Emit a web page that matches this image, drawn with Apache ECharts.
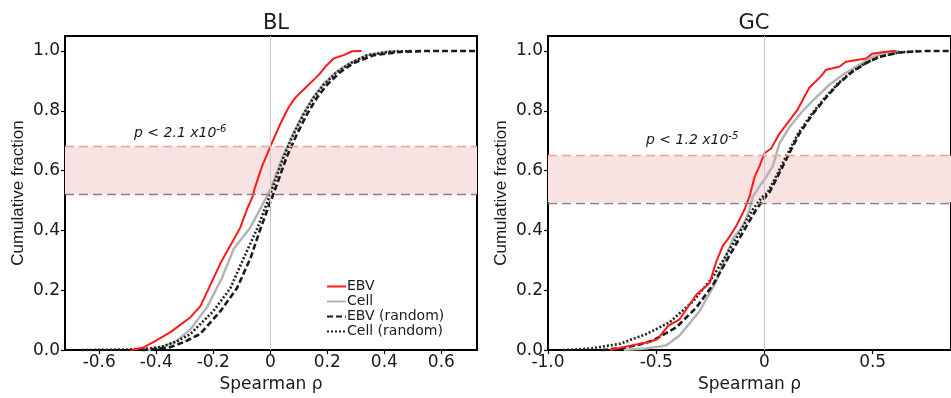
<!DOCTYPE html>
<html>
<head>
<meta charset="utf-8">
<script src="https://cdn.jsdelivr.net/npm/echarts@6/dist/echarts.min.js"></script>
<style>
  html, body { margin: 0; padding: 0; background: #fff; }
  #chart { width: 951px; height: 398px; }
</style>
</head>
<body>
<div id="chart"></div>
<script>
// [spearman rho, cumulative fraction]
const blEbv = [[-0.49,0],[-0.446,0.008],[-0.404,0.03],[-0.35,0.06],[-0.28,0.11],[-0.245,0.147],[-0.21,0.218],[-0.175,0.29],[-0.14,0.35],[-0.105,0.41],[-0.082,0.47],[-0.062,0.513],[-0.055,0.54],[-0.029,0.614],[0,0.68],[0.035,0.756],[0.064,0.811],[0.088,0.844],[0.129,0.882],[0.17,0.92],[0.193,0.947],[0.222,0.975],[0.257,0.986],[0.287,0.999],[0.32,1.0]];
const blCell = [[-0.43,0],[-0.38,0.01],[-0.33,0.03],[-0.28,0.07],[-0.222,0.143],[-0.17,0.24],[-0.128,0.339],[-0.07,0.41],[-0.025,0.49],[0.002,0.54],[0.044,0.647],[0.08,0.723],[0.115,0.789],[0.15,0.844],[0.185,0.887],[0.232,0.93],[0.28,0.96],[0.34,0.986],[0.4,0.997],[0.45,1.0]];
const blEbvRand = [[-0.45,0],[-0.4,0.004],[-0.35,0.01],[-0.3,0.028],[-0.246,0.054],[-0.175,0.13],[-0.117,0.207],[-0.07,0.306],[-0.035,0.404],[-0.006,0.48],[0.018,0.54],[0.058,0.647],[0.094,0.723],[0.129,0.789],[0.164,0.844],[0.199,0.887],[0.246,0.93],[0.292,0.959],[0.363,0.986],[0.456,0.997],[0.55,1.0],[0.72,1.0]];
const blCellRand = [[-0.66,0],[-0.5,0.002],[-0.44,0.004],[-0.386,0.01],[-0.33,0.028],[-0.28,0.054],[-0.2,0.13],[-0.14,0.207],[-0.094,0.306],[-0.047,0.404],[-0.012,0.49],[0.006,0.537],[0.047,0.647],[0.082,0.723],[0.117,0.789],[0.152,0.844],[0.187,0.887],[0.234,0.93],[0.281,0.959],[0.34,0.986],[0.42,0.997],[0.5,1.0]];

const gcEbv = [[-0.714,0],[-0.65,0.01],[-0.576,0.021],[-0.53,0.027],[-0.492,0.038],[-0.445,0.081],[-0.392,0.103],[-0.315,0.185],[-0.253,0.224],[-0.223,0.295],[-0.192,0.349],[-0.169,0.371],[-0.13,0.415],[-0.092,0.47],[-0.069,0.513],[-0.045,0.58],[-0.023,0.614],[0,0.658],[0.031,0.674],[0.069,0.723],[0.115,0.767],[0.154,0.805],[0.207,0.877],[0.261,0.915],[0.284,0.937],[0.346,0.947],[0.376,0.964],[0.469,0.975],[0.499,0.991],[0.561,0.997],[0.607,1.0]];
const gcCell = [[-0.65,0],[-0.55,0.005],[-0.5,0.01],[-0.453,0.016],[-0.392,0.049],[-0.3,0.13],[-0.223,0.229],[-0.177,0.317],[-0.146,0.371],[-0.1,0.415],[-0.069,0.47],[-0.054,0.513],[-0.03,0.54],[0,0.57],[0.038,0.614],[0.069,0.69],[0.115,0.745],[0.177,0.8],[0.238,0.844],[0.3,0.887],[0.361,0.92],[0.422,0.947],[0.499,0.98],[0.576,0.997],[0.622,1.0]];
const gcEbvRand = [[-0.75,0],[-0.65,0.008],[-0.58,0.018],[-0.515,0.032],[-0.407,0.076],[-0.315,0.142],[-0.238,0.218],[-0.161,0.317],[-0.1,0.393],[-0.038,0.47],[0,0.508],[0.023,0.527],[0.069,0.592],[0.115,0.658],[0.161,0.723],[0.223,0.789],[0.284,0.844],[0.346,0.893],[0.407,0.931],[0.469,0.959],[0.53,0.98],[0.622,0.995],[0.75,1.0],[0.86,1.0]];
const gcCellRand = [[-0.93,0],[-0.806,0.005],[-0.668,0.021],[-0.545,0.054],[-0.438,0.093],[-0.33,0.163],[-0.238,0.245],[-0.177,0.317],[-0.115,0.393],[-0.054,0.47],[-0.015,0.508],[0.015,0.527],[0.062,0.592],[0.108,0.658],[0.155,0.723],[0.218,0.789],[0.28,0.844],[0.342,0.893],[0.404,0.931],[0.466,0.959],[0.528,0.98],[0.62,0.995],[0.72,1.0]];

const panelTitles = ["BL", "GC"];
const bands = [[0.52, 0.68], [0.495, 0.65]];
const pLabels = [["2.1", "-6"], ["1.2", "-5"]];
const blTicks = [-0.6, -0.4, -0.2, 0, 0.2, 0.4, 0.6];
const gcTicks = [-1.0, -0.5, 0, 0.5];
const yTicks = [0, 0.2, 0.4, 0.6, 0.8, 1.0];

const FONT = "DejaVu Sans";
const chart = echarts.init(document.getElementById("chart"));

const grids = [
  { left: 65, top: 36, width: 412, height: 320 },
  { left: 548, top: 36, width: 404, height: 320 },
];

const xAxis = [
  { min: -0.72, max: 0.725, ticks: blTicks },
  { min: -1.0, max: 0.862, ticks: gcTicks },
].map((a, i) => ({
  type: "value",
  gridIndex: i,
  min: a.min,
  max: a.max,
  name: "Spearman ρ",
  nameLocation: "middle",
  nameGap: 22,
  nameTextStyle: { fontFamily: FONT, fontSize: 17, color: "#1a1a1a" },
  splitLine: { show: false },
  axisLine: { onZero: false, lineStyle: { color: "#000", width: 2 } },
  axisTick: { customValues: a.ticks, length: 4, lineStyle: { color: "#000", width: 1.2 } },
  axisLabel: {
    customValues: a.ticks,
    margin: 4,
    fontFamily: FONT,
    fontSize: 17,
    color: "#1a1a1a",
    formatter: (v) => (v === 0 ? "0" : v.toFixed(1)),
  },
}));

const yAxis = [0, 1].map((i) => ({
  type: "value",
  gridIndex: i,
  min: 0,
  max: 1.05,
  name: "Cumulative fraction",
  nameLocation: "middle",
  nameGap: 38,
  nameTextStyle: { fontFamily: "Liberation Sans", fontSize: 17, color: "#1a1a1a" },
  splitLine: { show: false },
  axisLine: { onZero: false, lineStyle: { color: "#000", width: 2 } },
  axisTick: { customValues: yTicks, length: 4, lineStyle: { color: "#000", width: 1.2 } },
  axisLabel: {
    customValues: yTicks,
    margin: 5,
    fontFamily: FONT,
    fontSize: 17,
    color: "#1a1a1a",
    formatter: (v) => v.toFixed(1),
  },
}));

const styles = {
  "EBV": { color: "#ff1a1a", width: 2, type: "solid" },
  "Cell": { color: "#b4b4b4", width: 2.5, type: "solid" },
  "EBV (random)": { color: "#1a1a1a", width: 2.6, type: [6, 3] },
  "Cell (random)": { color: "#222", width: 2.6, type: [2, 2] },
};

function curve(name, data, i) {
  const st = styles[name];
  return {
    name,
    type: "line",
    xAxisIndex: i,
    yAxisIndex: i,
    data,
    symbol: "none",
    animation: false,
    lineStyle: { color: st.color, width: st.width, type: st.type },
    itemStyle: { color: st.color },
    z: 3,
  };
}

function guides(i) {
  const [lo, hi] = bands[i];
  return {
    type: "line",
    xAxisIndex: i,
    yAxisIndex: i,
    data: [],
    silent: true,
    animation: false,
    markArea: {
      silent: true,
      itemStyle: { color: "#f8e2e2" },
      data: [[{ yAxis: lo }, { yAxis: hi }]],
    },
    markLine: {
      silent: true,
      symbol: "none",
      label: { show: false },
      data: [
        { xAxis: 0, lineStyle: { color: "#c8c8c8", width: 1, type: "solid" } },
        { yAxis: hi, lineStyle: { color: "#f4a0a0", width: 1.3, type: [9, 5] } },
        { yAxis: lo, lineStyle: { color: "#8c8080", width: 1.3, type: [9, 5] } },
      ],
    },
  };
}

const series = [
  guides(0),
  guides(1),
  curve("Cell", blCell, 0),
  curve("EBV (random)", blEbvRand, 0),
  curve("Cell (random)", blCellRand, 0),
  curve("EBV", blEbv, 0),
  curve("Cell", gcCell, 1),
  curve("EBV (random)", gcEbvRand, 1),
  curve("Cell (random)", gcCellRand, 1),
  curve("EBV", gcEbv, 1),
];

const pText = (i, x, y) => ({
  type: "text",
  left: x,
  top: y,
  style: {
    text: "{i|p < " + pLabels[i][0] + " x10}{s|" + pLabels[i][1] + "}",
    rich: {
      i: { fontFamily: FONT, fontStyle: "italic", fontSize: 14, fill: "#1a1a1a", lineHeight: 18 },
      s: { fontFamily: FONT, fontStyle: "italic", fontSize: 10, fill: "#1a1a1a", lineHeight: 18, padding: [0, 0, 8, 0] },
    },
  },
});

chart.setOption({
  animation: false,
  title: panelTitles.map((t, i) => ({
    text: t,
    left: i === 0 ? 271 : 749,
    top: 8,
    textAlign: "center",
    textStyle: { fontFamily: FONT, fontSize: 21, fontWeight: "normal", color: "#1a1a1a" },
  })),
  grid: grids.map((g) => ({ ...g, show: true, borderColor: "#000", borderWidth: 2, backgroundColor: "transparent" })),
  xAxis,
  yAxis,
  legend: {
    data: ["EBV", "Cell", "EBV (random)", "Cell (random)"],
    orient: "vertical",
    left: 321,
    top: 274,
    itemWidth: 19,
    itemHeight: 10,
    itemGap: 0,
    itemStyle: { opacity: 0 },
    textStyle: { fontFamily: FONT, fontSize: 14, lineHeight: 15, color: "#1a1a1a", padding: [0, 0, 0, -4] },
  },
  graphic: [pText(0, 134, 124), pText(1, 646, 131)],
  series,
});
</script>
</body>
</html>
